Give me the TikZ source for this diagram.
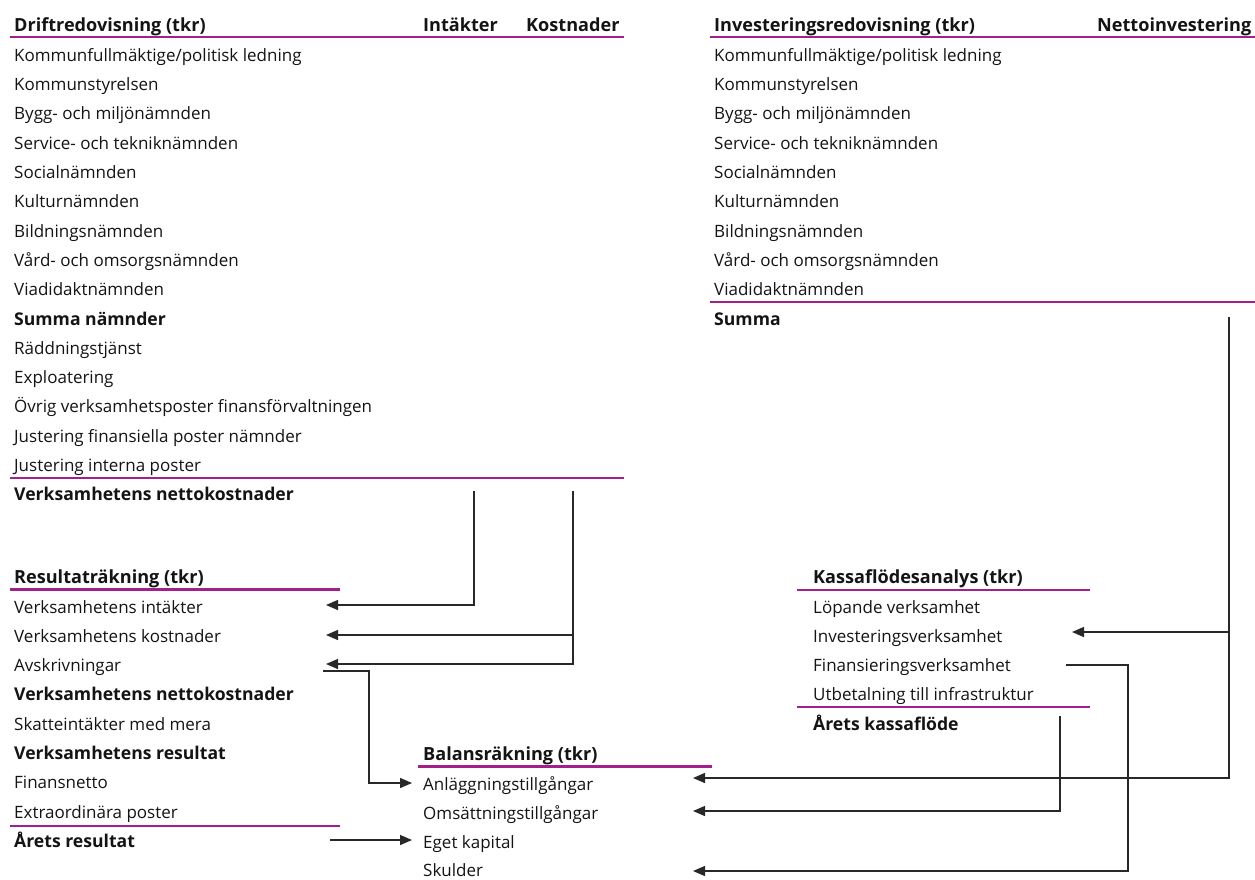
\documentclass[tikz,border=0pt]{standalone}
\usepackage{fontspec}
\setmainfont{Open Sans}
\usetikzlibrary{arrows.meta}
\definecolor{lila}{RGB}{160,32,140}
\definecolor{txt}{RGB}{20,20,20}
\definecolor{ln}{RGB}{40,40,40}
\tikzset{
  base/.style={anchor=base west,inner sep=0pt,text=txt},
  lbl/.style={base,yshift=-1.5pt,font=\fontsize{17}{20}\selectfont},
  bl/.style={base,yshift=-1.5pt,font=\fontsize{17.6}{20}\selectfont\bfseries},
  hd/.style={base,font=\fontsize{18.1}{21}\selectfont\bfseries},
  thick rule/.style={draw=lila,line width=2.6pt},
  thin rule/.style={draw=lila,line width=1.1pt},
  conn/.style={draw=ln,line width=1.3pt,-{Triangle[length=12pt,width=10pt]}}
}
\begin{document}
\begin{tikzpicture}[x=1pt,y=-1pt]
\useasboundingbox[fill=white] (0,0) rectangle (1255,879);
% ---------- Driftredovisning ----------
\node[hd] (dh) at (14,31) {Driftredovisning (tkr)};
\node[hd] (dhi) at (423,31) {Intäkter};
\node[hd] (dhk) at (526,31) {Kostnader};
\draw[thick rule] (10,37) -- (624,37);
\foreach \t [count=\k] in {Kommunfullmäktige/politisk ledning,Kommunstyrelsen,Bygg- och miljönämnden,Service- och tekniknämnden,Socialnämnden,Kulturnämnden,Bildningsnämnden,Vård- och omsorgsnämnden,Viadidaktnämnden}
  \node[lbl] (d\k) at (14,30.5+29.3*\k) {\t};
\node[bl] (d10) at (14,30.5+29.3*10) {Summa nämnder};
\foreach \t [count=\k from 11] in {Räddningstjänst,Exploatering,Övrig verksamhetsposter finansförvaltningen,Justering finansiella poster nämnder,Justering interna poster}
  \node[lbl] (d\k) at (14,30.5+29.3*\k) {\t};
\draw[thin rule] (10,478) -- (624,478);
\node[bl] (d16) at (14,30.5+29.3*16) {Verksamhetens nettokostnader};
% ---------- Investeringsredovisning ----------
\node[hd] (ih) at (714,31) {Investeringsredovisning (tkr)};
\node[hd] (ihn) at (1097,31) {Nettoinvestering};
\draw[thick rule] (710,37) -- (1255,37);
\foreach \t [count=\k] in {Kommunfullmäktige/politisk ledning,Kommunstyrelsen,Bygg- och miljönämnden,Service- och tekniknämnden,Socialnämnden,Kulturnämnden,Bildningsnämnden,Vård- och omsorgsnämnden,Viadidaktnämnden}
  \node[lbl] (i\k) at (714,30.5+29.3*\k) {\t};
\draw[thin rule] (710,302) -- (1255,302);
\node[bl] (i10) at (714,30.5+29.3*10) {Summa};
% ---------- Resultaträkning ----------
\node[hd] (rh) at (14,583) {Resultaträkning (tkr)};
\draw[thick rule] (10,589.5) -- (340,589.5);
\node[lbl] (r1) at (14,611.5) {Verksamhetens intäkter};
\node[lbl] (r2) at (14,640.8) {Verksamhetens kostnader};
\node[lbl] (r3) at (14,670.1) {Avskrivningar};
\node[bl]  (r4) at (14,699.4) {Verksamhetens nettokostnader};
\node[lbl] (r5) at (14,728.7) {Skatteintäkter med mera};
\node[bl]  (r6) at (14,758.0) {Verksamhetens resultat};
\node[lbl] (r7) at (14,787.3) {Finansnetto};
\node[lbl] (r8) at (14,816.6) {Extraordinära poster};
\draw[thin rule] (10,826) -- (340,826);
\node[bl]  (r9) at (14,845.9) {Årets resultat};
% ---------- Balansräkning ----------
\node[hd] (bh) at (423,760) {Balansräkning (tkr)};
\draw[thick rule] (418,766.5) -- (712,766.5);
\node[lbl] (b1) at (423,788.5) {Anläggningstillgångar};
\node[lbl] (b2) at (423,817.8) {Omsättningstillgångar};
\node[lbl] (b3) at (423,847.1) {Eget kapital};
\node[lbl] (b4) at (423,874.6) {Skulder};
% ---------- Kassaflödesanalys ----------
\node[hd] (kh) at (813,583) {Kassaflödesanalys (tkr)};
\draw[thick rule] (797,590) -- (1090,590);
\node[lbl] (k1) at (813,611.5) {Löpande verksamhet};
\node[lbl] (k2) at (813,640.8) {Investeringsverksamhet};
\node[lbl] (k3) at (813,670.1) {Finansieringsverksamhet};
\node[lbl] (k4) at (813,699.4) {Utbetalning till infrastruktur};
\draw[thin rule] (797,707) -- (1090,707);
\node[bl]  (k5) at (813,728.7) {Årets kassaflöde};
% ---------- connector end points ----------
\coordinate (intS) at (474,491);
\coordinate (kosS) at (573,491);
\coordinate (resI) at (326,605);
\coordinate (resK) at (326,635);
\coordinate (resA) at (326,664);
\coordinate (avS) at (323,671);
\coordinate (avC) at (369,720);
\coordinate (balA) at (412,783);
\coordinate (resS) at (330,840);
\coordinate (balE) at (412,840);
\coordinate (sumS) at (1229,317);
\coordinate (balAr) at (693,778);
\coordinate (kasI) at (1072,632);
\coordinate (finS) at (1066,665);
\coordinate (finC) at (1128,770);
\coordinate (balSk) at (693,871);
\coordinate (kfS) at (1060,716);
\coordinate (balO) at (693,811);
% ---------- connectors ----------
\draw[conn] (intS) |- (resI);
\draw[conn] (kosS) |- (resK);
\draw[conn] (kosS) |- (resA);
\draw[conn] (avS) -| (avC) |- (balA);
\draw[conn] (resS) -- (balE);
\draw[conn] (sumS) |- (balAr);
\draw[conn] (sumS) |- (kasI);
\draw[conn] (finS) -| (finC) |- (balSk);
\draw[conn] (kfS) |- (balO);
\end{tikzpicture}
\end{document}
